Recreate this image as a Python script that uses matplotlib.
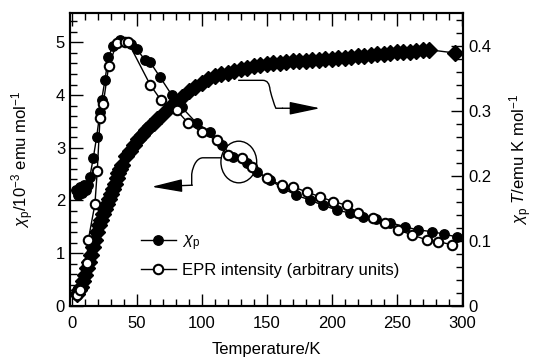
import matplotlib
matplotlib.use('Agg')
import matplotlib.pyplot as plt
from matplotlib.patches import Ellipse, PathPatch
from matplotlib.path import Path
from matplotlib.ticker import MultipleLocator

plt.rcParams['font.family'] = ['Liberation Sans', 'DejaVu Sans']
plt.rcParams['mathtext.fontset'] = 'custom'
plt.rcParams['mathtext.rm'] = 'Liberation Sans'
plt.rcParams['mathtext.it'] = 'Liberation Sans:italic'

# chi_p (filled circles), 10^-3 emu/mol
chi_T = [3.5, 5, 6.5, 8, 9.5, 11, 12.5, 14, 16.6, 19.2, 21.8, 23, 25.6, 28.2, 32, 37.2,
         41.8, 45.6, 50, 56.4, 60.2, 68, 77, 84.6, 96, 106.4, 115.4, 124, 134.6, 142.3,
         152.5, 162.5, 172.5, 183, 193, 203.8, 214, 224, 234, 244.8, 256.4, 266.4, 277,
         286.4, 296]
chi_p = [2.2, 2.1, 2.25, 2.15, 2.3, 2.2, 2.3, 2.45, 2.8, 3.2, 3.68, 3.9, 4.28, 4.72, 4.94, 5.04,
         5.0, 4.96, 4.88, 4.66, 4.63, 4.34, 4.0, 3.77, 3.47, 3.3, 3.05, 2.83, 2.71, 2.54,
         2.39, 2.23, 2.1, 2.01, 1.91, 1.82, 1.76, 1.69, 1.65, 1.58, 1.5, 1.44, 1.41,
         1.36, 1.31]

# EPR intensity (open circles), arbitrary units
epr_T = [3.8, 6.4, 11.5, 12.8, 17.9, 19.7, 21.8, 24.3, 28.5, 34.6, 41, 43.5, 60.5, 68.8,
         80.8, 89.5, 100, 111.5, 120.2, 130.8, 138.5, 150, 161.5, 170.2, 180.8, 191, 201,
         211.5, 220, 231.8, 241, 251, 261.5, 273, 281.8, 292.3]
epr_I = [0.21, 0.3, 0.81, 1.25, 1.93, 2.56, 3.56, 3.84, 4.55, 4.98, 5.0, 5.0, 4.19, 3.9,
         3.71, 3.47, 3.3, 3.14, 2.86, 2.8, 2.64, 2.42, 2.29, 2.26, 2.16, 2.07, 1.98,
         1.91, 1.76, 1.67, 1.57, 1.44, 1.35, 1.25, 1.22, 1.16]

# chi_p T (diamonds), emu K/mol
chiT_T = [4.5, 6, 7.5, 9, 10.5, 12, 13.5, 15, 16.5, 18, 19.5, 21, 22.5, 24, 25.5, 27, 28.5,
          30, 31.5, 33, 34.5, 36, 37.5, 39, 42, 45, 48, 51, 54, 57, 60, 63, 66, 69,
          75, 80, 85, 90, 95, 100, 105, 110, 115, 120, 125, 130, 135, 140, 145, 150, 155,
          160, 165, 170, 175, 180, 185, 190, 195, 200, 205, 210, 215, 220, 225, 230, 235,
          240, 245, 250, 255, 260, 265, 270, 275, 295]
chiT_v = [0.018, 0.024, 0.029, 0.038, 0.048, 0.058, 0.068, 0.078, 0.090, 0.102, 0.114, 0.124,
          0.132, 0.141, 0.149, 0.156, 0.164, 0.172, 0.180, 0.188, 0.196, 0.204, 0.210, 0.216,
          0.230, 0.239, 0.247, 0.256, 0.263, 0.270, 0.276, 0.282, 0.287, 0.292,
          0.304, 0.314, 0.322, 0.330, 0.336, 0.343, 0.349, 0.353, 0.356, 0.359, 0.362, 0.364,
          0.366, 0.369, 0.371, 0.372, 0.373, 0.374, 0.375, 0.376, 0.377, 0.377, 0.378, 0.379,
          0.380, 0.380, 0.381, 0.382, 0.383, 0.384, 0.385, 0.386, 0.387, 0.388, 0.389, 0.390,
          0.390, 0.391, 0.392, 0.393, 0.394, 0.389]

fig = plt.figure(figsize=(5.38, 3.62), dpi=100)
ax = fig.add_axes([0.130, 0.155, 0.731, 0.808])
ax2 = ax.twinx()

ax2.plot(chiT_T, chiT_v, '-', color='black', lw=1.0, marker='D', ms=8.5,
         mfc='black', mec='black', zorder=2)
ax.plot(chi_T, chi_p, '-', color='black', lw=1.0, marker='o', ms=6.8,
        mfc='black', mec='black', label=r'$\chi_\mathrm{p}$', zorder=3)
ax.plot(epr_T, epr_I, '-', color='black', lw=1.0, marker='o', ms=6.8,
        mfc='white', mec='black', mew=1.5, label='EPR intensity (arbitrary units)', zorder=4)

ax.set_zorder(ax2.get_zorder() + 1)
ax.patch.set_visible(False)

ax.set_xlim(-1.3, 301)
ax.set_ylim(0, 5.55)
ax2.set_ylim(0, 0.45)

ax.xaxis.set_major_locator(MultipleLocator(50))
ax.xaxis.set_minor_locator(MultipleLocator(10))
ax.yaxis.set_major_locator(MultipleLocator(1))
ax.yaxis.set_minor_locator(MultipleLocator(0.2))
ax2.yaxis.set_minor_locator(MultipleLocator(0.02))
ax2.set_yticks([0, 0.1, 0.2, 0.3, 0.4])
ax2.set_yticklabels(['0', '0.1', '0.2', '0.3', '0.4'])

ax.tick_params(axis='x', which='both', direction='in', top=True, labelsize=12, pad=7)
ax.tick_params(axis='y', which='both', direction='in', labelsize=12)
ax2.tick_params(axis='y', which='both', direction='in', labelsize=12)
for a in (ax, ax2):
    a.tick_params(which='major', length=9, width=1.0)
    a.tick_params(which='minor', length=5, width=1.0)
    for s in a.spines.values():
        s.set_linewidth(1.5)

ax.set_xlabel('Temperature/K', fontsize=12, labelpad=8)
ax.set_ylabel(r'$\chi_\mathrm{p}$/10$^{-3}$ emu mol$^{-1}$', fontsize=12, labelpad=14)
ax2.set_ylabel(r'$\chi_\mathrm{p}$ $T$/emu K mol$^{-1}$', fontsize=12, labelpad=12)

# highlight circle
ax.add_patch(Ellipse((128.5, 2.73), 27.5, 0.79, fill=False, ec='black', lw=1.0, zorder=5))

head = '-|>,head_length=0.95,head_width=0.2'

# curvy arrow to the left axis
left_path = Path([(115.4, 2.81), (101, 2.81), (97, 2.81), (93.5, 2.7), (92.3, 2.5), (92.3, 2.29)],
                 [Path.MOVETO, Path.LINETO, Path.CURVE4, Path.CURVE4, Path.CURVE4, Path.LINETO])
ax.add_patch(PathPatch(left_path, fill=False, ec='black', lw=1.0, zorder=5))
ax.annotate('', xy=(61.5, 2.26), xytext=(92.8, 2.29),
            arrowprops=dict(arrowstyle=head, mutation_scale=20,
                            color='black', lw=1.0, shrinkA=0, shrinkB=0), zorder=5)

# curvy arrow to the right axis
right_path = Path([(128, 4.28), (147, 4.28), (152, 4.28), (152.5, 4.1), (155, 3.85), (157, 3.75), (162.5, 3.75)],
                  [Path.MOVETO, Path.LINETO, Path.CURVE3, Path.CURVE3, Path.CURVE3, Path.CURVE3, Path.LINETO])
ax.add_patch(PathPatch(right_path, fill=False, ec='black', lw=1.0, zorder=5))
ax.annotate('', xy=(191, 3.75), xytext=(162, 3.75),
            arrowprops=dict(arrowstyle=head, mutation_scale=20,
                            color='black', lw=1.0, shrinkA=0, shrinkB=0), zorder=5)

ax.legend(loc='lower left', bbox_to_anchor=(0.15, 0.055), frameon=False, fontsize=12,
          handlelength=2.1, handletextpad=0.4, labelspacing=0.6, borderpad=0.2)

fig.savefig('out.png', dpi=100)
